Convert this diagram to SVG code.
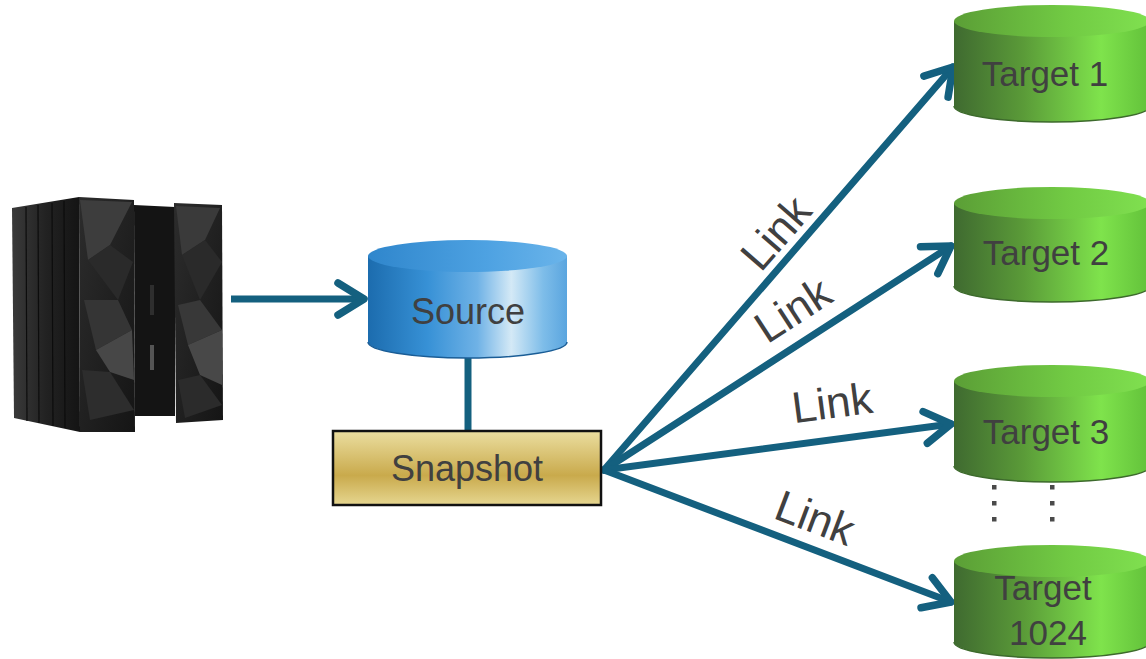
<svg xmlns="http://www.w3.org/2000/svg" width="1146" height="659" viewBox="0 0 1146 659">
<defs>
<style>
.lbl{font-family:"Liberation Sans",Arial,sans-serif;fill:#404040;text-anchor:middle}
.tgt{font-size:35px}
.big{font-size:36px}
.link{font-size:44px}
.conn{stroke:#14607f;stroke-width:7;fill:none}
.dot{fill:#4a4a4a}
.rimB{fill:none;stroke:#1a5d96;stroke-width:1.5}
.rimG{fill:none;stroke:#3d6a2c;stroke-width:1.5}
</style>
<linearGradient id="gBlueBody" x1="0" y1="0" x2="1" y2="0">
<stop offset="0" stop-color="#1c6cae"/>
<stop offset="0.3" stop-color="#3791d6"/>
<stop offset="0.55" stop-color="#6fb2e6"/>
<stop offset="0.72" stop-color="#d4e9f6"/>
<stop offset="0.88" stop-color="#7ebde9"/>
<stop offset="1" stop-color="#5aa5df"/>
</linearGradient>
<linearGradient id="gBlueTop" x1="0" y1="0" x2="1" y2="0">
<stop offset="0" stop-color="#2f86cc"/>
<stop offset="0.6" stop-color="#4ea2e2"/>
<stop offset="1" stop-color="#6ab4ea"/>
</linearGradient>
<linearGradient id="gGreenBody" x1="0" y1="0" x2="1" y2="0">
<stop offset="0" stop-color="#3f6a30"/>
<stop offset="0.35" stop-color="#5a9a38"/>
<stop offset="0.75" stop-color="#7fe34c"/>
<stop offset="1" stop-color="#62c13a"/>
</linearGradient>
<linearGradient id="gGreenTop" x1="0" y1="0" x2="1" y2="0">
<stop offset="0" stop-color="#5b9e36"/>
<stop offset="0.6" stop-color="#72cc44"/>
<stop offset="1" stop-color="#80e050"/>
</linearGradient>
<linearGradient id="gGold" x1="0" y1="0" x2="0" y2="1">
<stop offset="0" stop-color="#ebdea0"/>
<stop offset="0.6" stop-color="#c9aa4c"/>
<stop offset="1" stop-color="#e6d690"/>
</linearGradient>
<linearGradient id="gSide" x1="0" y1="0" x2="1" y2="0">
<stop offset="0" stop-color="#3a3a3a"/>
<stop offset="0.5" stop-color="#222"/>
<stop offset="1" stop-color="#141414"/>
</linearGradient>
<linearGradient id="gPanel" x1="0" y1="0" x2="1" y2="1">
<stop offset="0" stop-color="#2c2c2c"/>
<stop offset="1" stop-color="#151515"/>
</linearGradient>
<marker id="arr" markerUnits="userSpaceOnUse" markerWidth="70" markerHeight="70" viewBox="-45 -35 70 70" refX="0" refY="0" orient="auto" overflow="visible">
<path d="M-26,-16 L0,0 L-26,16" fill="none" stroke="#14607f" stroke-width="7.5" stroke-linecap="round" stroke-linejoin="round"/>
</marker>
</defs>

<g id="mainframe">
<polygon points="12,208 79,197 80,432 14,418" fill="url(#gSide)"/>
<g stroke="#0c0c0c" stroke-width="1.2">
<line x1="26" y1="207" x2="27" y2="421"/>
<line x1="38" y1="205" x2="39" y2="423"/>
<line x1="52" y1="203" x2="53" y2="426"/>
<line x1="64" y1="201" x2="65" y2="428"/>
</g>
<polygon points="79,197 134,200 135,432 80,432" fill="url(#gPanel)"/>
<polygon points="80,200 132,202 110,245 88,260" fill="#3d3d3d"/>
<polygon points="88,260 110,245 133,262 118,300" fill="#2a2a2a"/>
<polygon points="84,300 118,300 132,330 96,350" fill="#353535"/>
<polygon points="96,350 132,330 134,380 110,372" fill="#474747"/>
<polygon points="82,370 110,372 134,410 90,420" fill="#2d2d2d"/>
<polygon points="134,205 175,207 175,416 135,416" fill="#141414"/>
<rect x="150" y="285" width="4" height="30" fill="#2e2e2e"/>
<rect x="150" y="345" width="4" height="25" fill="#555"/>
<polygon points="174,203 222,205 223,420 176,423" fill="url(#gPanel)"/>
<polygon points="176,206 220,208 205,240 182,255" fill="#3a3a3a"/>
<polygon points="182,255 205,240 222,262 200,300" fill="#2a2a2a"/>
<polygon points="178,305 200,300 222,330 188,345" fill="#383838"/>
<polygon points="188,345 222,330 222,385 200,375" fill="#484848"/>
<polygon points="178,380 200,375 222,405 185,418" fill="#2b2b2b"/>
</g>

<g id="connectors">
<line class="conn" x1="231" y1="299" x2="364" y2="299" marker-end="url(#arr)"/>
<line class="conn" x1="468" y1="356" x2="468" y2="432"/>
<line class="conn" x1="604" y1="470" x2="953" y2="67" marker-end="url(#arr)" stroke-linecap="round"/>
<line class="conn" x1="604" y1="470" x2="951" y2="246" marker-end="url(#arr)" stroke-linecap="round"/>
<line class="conn" x1="604" y1="470" x2="951" y2="424" marker-end="url(#arr)" stroke-linecap="round"/>
<line class="conn" x1="604" y1="470" x2="951" y2="602" marker-end="url(#arr)" stroke-linecap="round"/>
<text class="lbl link" transform="translate(776,233) rotate(-49)" y="15">Link</text>
<text class="lbl link" transform="translate(793,310) rotate(-33)" y="15">Link</text>
<text class="lbl link" transform="translate(832,403) rotate(-7.5)" y="15">Link</text>
<text class="lbl link" transform="translate(815,518) rotate(20.7)" y="15">Link</text>
</g>

<g id="source">
<path d="M368,256 L368,342 A99.5,16 0 0 0 567,342 L567,256 Z" fill="url(#gBlueBody)"/>
<path class="rimB" d="M368,342 A99.5,16 0 0 0 567,342"/>
<ellipse cx="467.5" cy="256" rx="99.5" ry="16" fill="url(#gBlueTop)"/>
<text class="lbl big" x="468" y="324">Source</text>
</g>

<g id="snapshot">
<rect x="333" y="431" width="268" height="74" fill="url(#gGold)" stroke="#111" stroke-width="2.5"/>
<text class="lbl big" x="467" y="481">Snapshot</text>
</g>

<g id="target1">
<path d="M954,21 L954,106 A98,16 0 0 0 1150,106 L1150,21 Z" fill="url(#gGreenBody)"/>
<path class="rimG" d="M954,106 A98,16 0 0 0 1150,106"/>
<ellipse cx="1052" cy="21" rx="98" ry="16" fill="url(#gGreenTop)"/>
<text class="lbl tgt" x="1045" y="86">Target 1</text>
</g>

<g id="target2">
<path d="M954,203 L954,286 A98,16 0 0 0 1150,286 L1150,203 Z" fill="url(#gGreenBody)"/>
<path class="rimG" d="M954,286 A98,16 0 0 0 1150,286"/>
<ellipse cx="1052" cy="203" rx="98" ry="16" fill="url(#gGreenTop)"/>
<text class="lbl tgt" x="1046" y="265">Target 2</text>
</g>

<g id="target3">
<path d="M954,381 L954,466 A98,16 0 0 0 1150,466 L1150,381 Z" fill="url(#gGreenBody)"/>
<path class="rimG" d="M954,466 A98,16 0 0 0 1150,466"/>
<ellipse cx="1052" cy="381" rx="98" ry="16" fill="url(#gGreenTop)"/>
<text class="lbl tgt" x="1046" y="444">Target 3</text>
</g>

<g id="dots">
<rect class="dot" x="992" y="485" width="4.5" height="4.5"/>
<rect class="dot" x="992" y="501" width="4.5" height="4.5"/>
<rect class="dot" x="992" y="517" width="4.5" height="4.5"/>
<rect class="dot" x="1050" y="485" width="4.5" height="4.5"/>
<rect class="dot" x="1050" y="501" width="4.5" height="4.5"/>
<rect class="dot" x="1050" y="517" width="4.5" height="4.5"/>
</g>

<g id="target1024">
<path d="M954,561 L954,642 A98,16 0 0 0 1150,642 L1150,561 Z" fill="url(#gGreenBody)"/>
<path class="rimG" d="M954,642 A98,16 0 0 0 1150,642"/>
<ellipse cx="1052" cy="561" rx="98" ry="16" fill="url(#gGreenTop)"/>
<text class="lbl tgt" x="1043" y="600">Target</text>
<text class="lbl tgt" x="1048" y="645">1024</text>
</g>
</svg>
